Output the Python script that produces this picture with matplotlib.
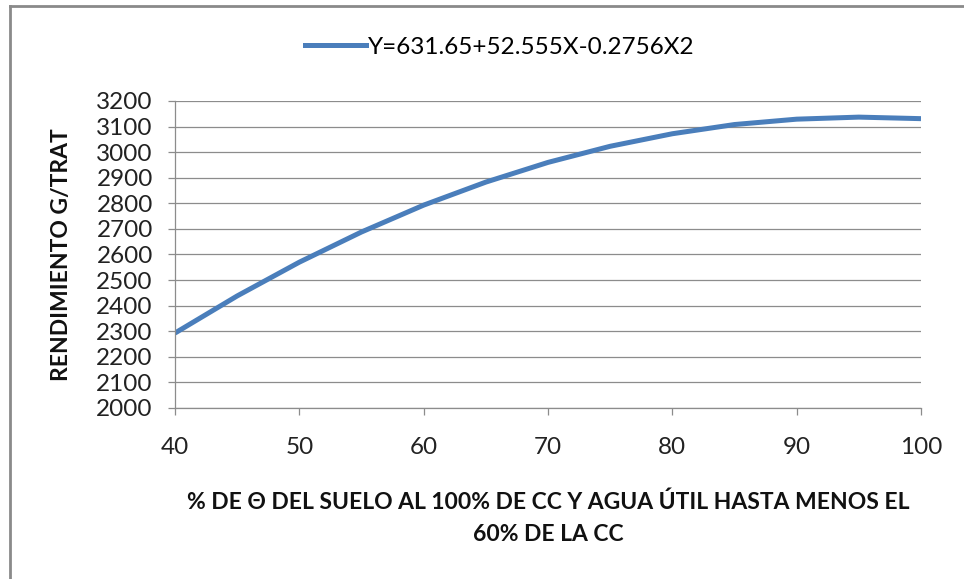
import matplotlib
matplotlib.use("Agg")
import matplotlib.pyplot as plt
from matplotlib.lines import Line2D

# Data
x_vals = [40, 45, 50, 55, 60, 65, 70, 75, 80, 85, 90, 95, 100]
y_vals = [2293, 2438, 2570, 2688, 2793, 2883, 2960, 3023, 3072, 3108, 3129, 3137, 3131]
series_name = "Y=631.65+52.555X-0.2756X2"
x_ticks = [40, 50, 60, 70, 80, 90, 100]
y_ticks = list(range(2000, 3201, 100))

plt.rcParams['font.family'] = ['Lato', 'DejaVu Sans']
line_color = '#4a7ebb'
grid_color = '#8c8c8c'

fig = plt.figure(figsize=(9.64, 5.79), dpi=100)
ax = fig.add_axes([175 / 964, 1 - 408 / 579, (921 - 175) / 964, (408 - 101) / 579])

ax.plot(x_vals, y_vals, color=line_color, lw=3.6, solid_capstyle='butt')
ax.set_xlim(40, 100)
ax.set_ylim(2000, 3200)
ax.set_xticks(x_ticks)
ax.set_yticks(y_ticks)
ax.grid(axis='y', color=grid_color, lw=0.9)
ax.set_axisbelow(True)

for s in ['top', 'right']:
    ax.spines[s].set_visible(False)
for s in ['left', 'bottom']:
    ax.spines[s].set_color(grid_color)
    ax.spines[s].set_linewidth(0.9)

ax.tick_params(axis='both', colors=grid_color, length=5, width=0.9, labelsize=17.5,
               labelcolor='#222222')
ax.tick_params(axis='x', pad=16)
ax.tick_params(axis='y', pad=11)

fig.text(62 / 964, 1 - 255 / 579, "RENDIMIENTO G/TRAT", rotation=90,
         ha='center', va='center', fontsize=16.5, fontweight='bold', color='#111111')
fig.text(548 / 964, 1 - 518 / 579,
         "% DE Θ DEL SUELO AL 100% DE CC Y AGUA ÚTIL HASTA MENOS EL\n60% DE LA CC",
         ha='center', va='center', fontsize=16.5, fontweight='bold',
         linespacing=1.65, color='#111111')

# legend at top
fig.legend(handles=[Line2D([], [], color=line_color, lw=3.6)], labels=[series_name],
           loc='center', bbox_to_anchor=(500 / 964, 1 - 47 / 579), frameon=False,
           fontsize=17.5, handlelength=2.5, handletextpad=0.1)

# outer frame (left and top edges)
fig.add_artist(Line2D([10 / 964, 10 / 964], [0, 1 - 6 / 579], color='#8a8a8a', lw=2,
                      transform=fig.transFigure))
fig.add_artist(Line2D([10 / 964, 1], [1 - 6 / 579, 1 - 6 / 579], color='#8a8a8a', lw=2,
                      transform=fig.transFigure))

fig.savefig("out.png", dpi=100)
